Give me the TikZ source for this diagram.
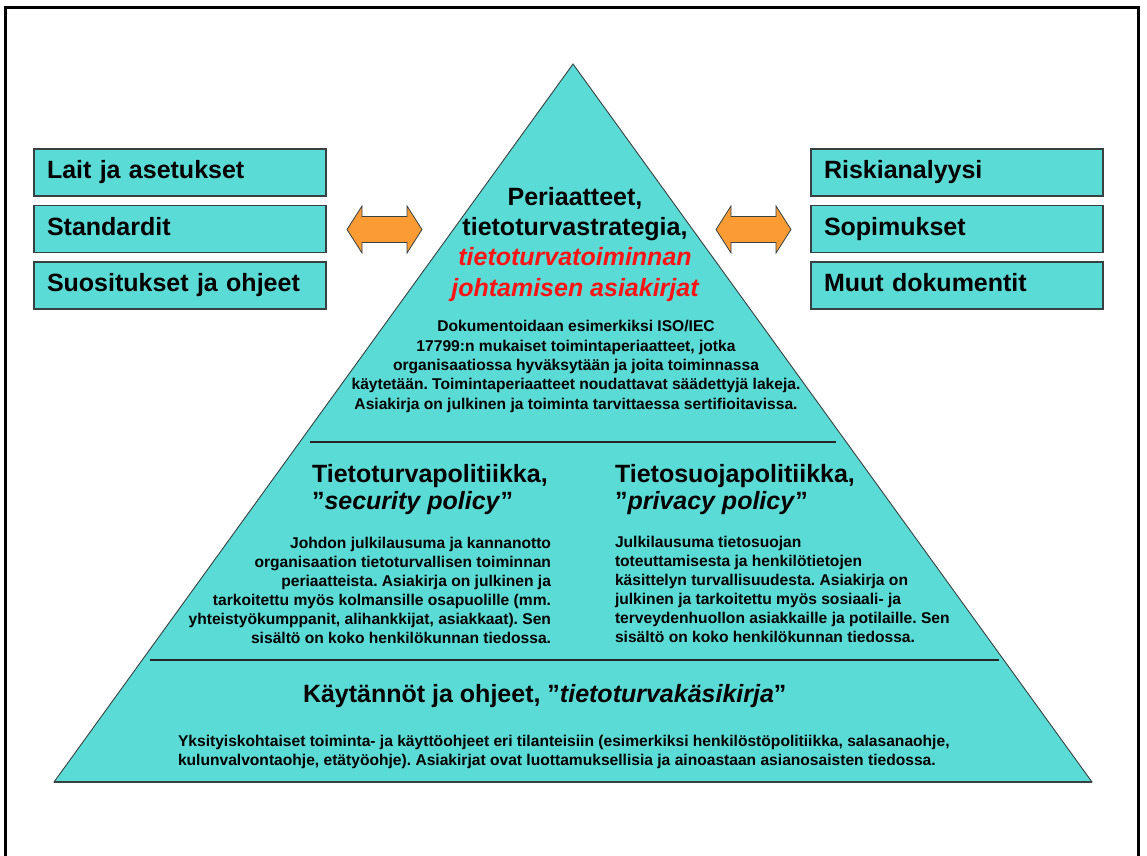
\documentclass[tikz,border=0pt]{standalone}
\usepackage{fontspec}
\setmainfont{Liberation Sans}
\frenchspacing
\definecolor{pyramid}{RGB}{91,219,214}
\definecolor{edgegray}{RGB}{55,65,65}
\definecolor{arroworange}{RGB}{250,155,52}
\definecolor{alertred}{RGB}{250,20,20}
\newcommand\pyrhead{\fontsize{25}{30.3}\selectfont\bfseries}
\newcommand\pyrbody{\fontsize{15.6}{19.3}\selectfont\bfseries}
\begin{document}
\begin{tikzpicture}[x=1pt,y=-1pt,
  every node/.style={inner sep=0pt, outer sep=0pt},
  docbox/.style={draw=edgegray, line width=1.1pt, fill=pyramid, anchor=north west,
    minimum height=47pt, text width=266pt, inner xsep=13pt, inner ysep=0pt,
    align=left, font=\pyrhead, text height=18pt, text depth=6pt},
  pyr/.style={draw=edgegray, line width=0.9pt, fill=pyramid, line join=miter},
  divider/.style={draw=black!85, line width=1.6pt},
  heading/.style={font=\pyrhead},
  bodytext/.style={font=\pyrbody},
  dblarrow/.pic={
    \draw[fill=arroworange, draw=edgegray, line width=0.8pt, line join=miter]
      (-37.5,0) -- (-22.5,-23.5) -- (-22.5,-13) -- (22.5,-13) -- (22.5,-23.5)
      -- (37.5,0) -- (22.5,23.5) -- (22.5,13) -- (-22.5,13) -- (-22.5,23.5) -- cycle;
  }]
% canvas and frame
\useasboundingbox (0,0) rectangle (1147,855);
\fill[white] (0,0) rectangle (1147,855);
\draw[line width=3pt, line join=miter] (5.5,860) -- (5.5,7) -- (1138.5,7) -- (1138.5,860);

% pyramid
\coordinate (apex) at (573,64);
\coordinate (bl) at (54,782);
\coordinate (br) at (1092,782);
\draw[pyr] (apex) -- (br) -- (bl) -- cycle;
\draw[edgegray, line width=2pt] (bl) -- (br);

% level dividers
\coordinate (d1l) at (310,442);
\coordinate (d1r) at (836,442);
\coordinate (d2l) at (150,660);
\coordinate (d2r) at (999,660);
\draw[divider] (d1l) -- (d1r);
\draw[divider] (d2l) -- (d2r);

% side document boxes
\node[docbox] (laws) at (34,149) {Lait ja asetukset};
\node[docbox] (stds) at (34,205.5) {Standardit};
\node[docbox] (recs) at (34,262) {Suositukset ja ohjeet};
\node[docbox] (risk) at (811,149) {Riskianalyysi};
\node[docbox] (contr) at (811,205.5) {Sopimukset};
\node[docbox] (other) at (811,262) {Muut dokumentit};

% two-way arrows
\pic (leftarrow) at (384.5,229.5) {dblarrow};
\pic (rightarrow) at (753.5,229.5) {dblarrow};

% top level (base anchors sit on the last line)
\node[heading, align=center, anchor=base] (toptitle) at (575,296)
  {Periaatteet,\\tietoturvastrategia,\\
   \textcolor{alertred}{\itshape tietoturvatoiminnan}\\
   \textcolor{alertred}{\itshape johtamisen asiakirjat}};
\node[bodytext, align=center, anchor=base] (toptext) at (576,409)
  {Dokumentoidaan esimerkiksi ISO/IEC\\
   17799:n mukaiset toimintaperiaatteet, jotka\\
   organisaatiossa hyväksytään ja joita toiminnassa\\
   käytetään. Toimintaperiaatteet noudattavat säädettyjä lakeja.\\
   Asiakirja on julkinen ja toiminta tarvittaessa sertifioitavissa.};

% middle level
\node[heading, font=\fontsize{25}{27}\selectfont\bfseries, align=left, anchor=base west] (sectitle) at (312,509)
  {Tietoturvapolitiikka,\\”\textit{security policy}”};
\node[heading, font=\fontsize{25}{27}\selectfont\bfseries, align=left, anchor=base west] (privtitle) at (615,509)
  {Tietosuojapolitiikka,\\”\textit{privacy policy}”};
\node[bodytext, font=\fontsize{15.6}{19}\selectfont\bfseries, align=right, anchor=base east] (sectext) at (551,643)
  {Johdon julkilausuma ja kannanotto\\
   organisaation tietoturvallisen toiminnan\\
   periaatteista. Asiakirja on julkinen ja\\
   tarkoitettu myös kolmansille osapuolille (mm.\\
   yhteistyökumppanit, alihankkijat, asiakkaat). Sen\\
   sisältö on koko henkilökunnan tiedossa.};
\node[bodytext, font=\fontsize{15.6}{19}\selectfont\bfseries, align=left, anchor=base west] (privtext) at (615,642)
  {Julkilausuma tietosuojan\\
   toteuttamisesta ja henkilötietojen\\
   käsittelyn turvallisuudesta. Asiakirja on\\
   julkinen ja tarkoitettu myös sosiaali- ja\\
   terveydenhuollon asiakkaille ja potilaille. Sen\\
   sisältö on koko henkilökunnan tiedossa.};

% bottom level
\node[heading, anchor=base west] (practitle) at (303,702)
  {Käytännöt ja ohjeet, ”\textit{tietoturvakäsikirja}”};
\node[bodytext, font=\fontsize{15.6}{18.5}\selectfont\bfseries, align=left, anchor=base west] (practext) at (178,765)
  {Yksityiskohtaiset toiminta- ja käyttöohjeet eri tilanteisiin (esimerkiksi henkilöstöpolitiikka, salasanaohje,\\
   kulunvalvontaohje, etätyöohje). Asiakirjat ovat luottamuksellisia ja ainoastaan asianosaisten tiedossa.};
\end{tikzpicture}
\end{document}
